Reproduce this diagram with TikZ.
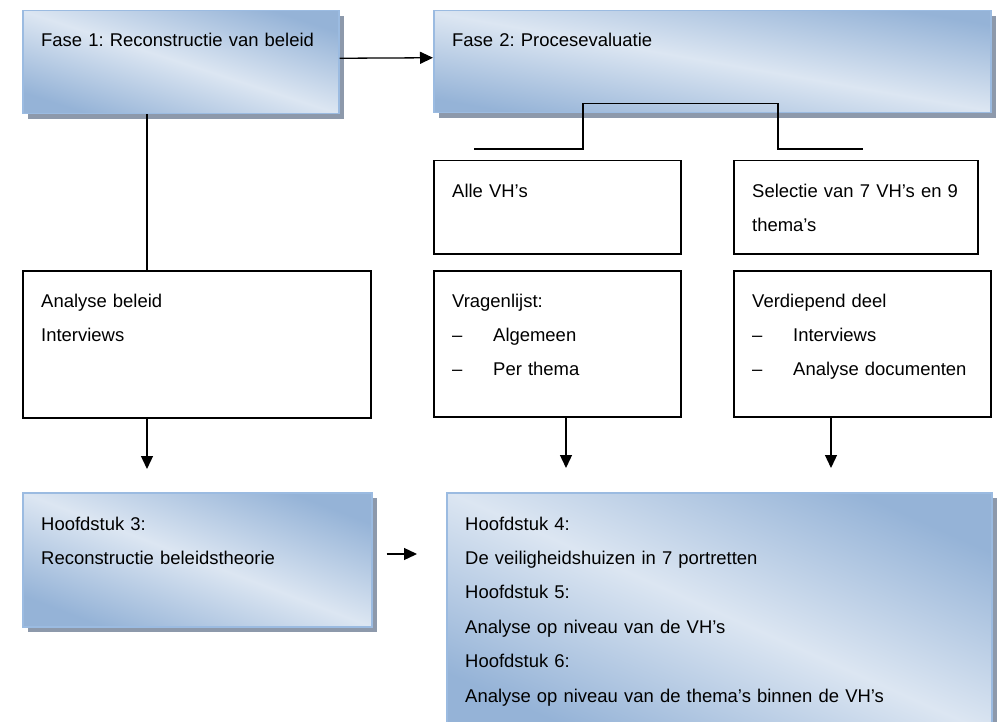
\documentclass[tikz,border=0pt]{standalone}
\usepackage{fontspec}
\setmainfont{Liberation Sans}
\usetikzlibrary{arrows.meta,shadows}
\frenchspacing

\definecolor{phasedark}{RGB}{149,179,215}
\definecolor{phaselight}{RGB}{220,230,242}
\definecolor{phaseline}{RGB}{155,187,225}
\definecolor{shadowgray}{RGB}{141,153,171}

\begin{document}
\begin{tikzpicture}[x=1pt,y=-1pt,
		phase/.style={draw=phaseline, line width=1.5pt, top color=phasedark, bottom color=phasedark,
			middle color=phaselight, shading angle=#1,
			drop shadow={shadow xshift=5pt, shadow yshift=-5pt, fill=shadowgray, opacity=1},
			anchor=north west, inner sep=0pt},
		plainbox/.style={draw, line width=1.5pt, anchor=north west, inner sep=0pt},
		boxtext/.style={anchor=base west, text width=560pt, align=left, inner sep=0pt,
			font=\fontsize{18.45}{34.4}\selectfont},
		arr/.style={line width=1.3pt, -{Triangle[length=13pt,width=12pt]}},
		link/.style={line width=1.3pt}]
		\useasboundingbox (0,0) rectangle (998,722);
		% blue boxes
		\node[phase=-18, minimum width=316pt, minimum height=103pt] (f1) at (22,10) {};
		\node[phase=-10, minimum width=557pt, minimum height=102pt] (f2) at (433,10) {};
		\node[phase=-21, minimum width=349pt, minimum height=134pt] (h3) at (22,492) {};
		\node[phase=-24, minimum width=545pt, minimum height=240pt] (h4) at (446,492) {};
		% white boxes
		\node[plainbox, minimum width=348pt, minimum height=147pt] (ana) at (22,270) {};
		\node[plainbox, minimum width=247pt, minimum height=93pt] (alle) at (433,160) {};
		\node[plainbox, minimum width=244pt, minimum height=93pt] (sel) at (733,160) {};
		\node[plainbox, minimum width=247pt, minimum height=146pt] (vra) at (433,270) {};
		\node[plainbox, minimum width=257pt, minimum height=146pt] (ver) at (733,270) {};

		\node[boxtext] (f1t) at ([shift={(19,37)}]f1.north west) {Fase 1: Reconstructie van beleid};
		\node[boxtext] (f2t) at ([shift={(19,37)}]f2.north west) {Fase 2: Procesevaluatie};
		\node[boxtext] (anat) at ([shift={(19,37)}]ana.north west) {Analyse beleid\\Interviews};
		\node[boxtext] (allet) at ([shift={(19,37)}]alle.north west) {Alle VH’s};
		\node[boxtext] (selt) at ([shift={(19,37)}]sel.north west) {Selectie van 7 VH’s en 9\\thema’s};
		\node[boxtext] (vrat) at ([shift={(19,37)}]vra.north west)
			{Vragenlijst:\\\makebox[41pt][l]{–}Algemeen\\\makebox[41pt][l]{–}Per thema};
		\node[boxtext] (vert) at ([shift={(19,37)}]ver.north west)
			{Verdiepend deel\\\makebox[41pt][l]{–}Interviews\\\makebox[41pt][l]{–}Analyse documenten};
		\node[boxtext] (h3t) at ([shift={(19,38)}]h3.north west) {Hoofdstuk 3:\\Reconstructie beleidstheorie};
		\node[boxtext] (h4t) at ([shift={(19,38)}]h4.north west)
			{Hoofdstuk 4:\\De veiligheidshuizen in 7 portretten\\Hoofdstuk 5:\\Analyse op niveau van de VH’s\\Hoofdstuk 6:\\Analyse op niveau van de thema’s binnen de VH’s};

		% connectors
		\draw[arr] ([yshift=4pt]f1.east) -- ([yshift=4pt]f2.west);
		\draw[link] ([xshift=125pt]f1.south west) -- ([xshift=125pt]ana.north west);
		\draw[link] ([shift={(41,-11)}]alle.north west) -| ([shift={(150,-10)}]f2.south west)
			-- ([shift={(345,-10)}]f2.south west) |- ([shift={(130,-11)}]sel.north west);
		\draw[arr] ([xshift=125pt]ana.south west) -- ([xshift=125pt,yshift=23pt]h3.north west);
		\draw[arr] ([xshift=133pt]vra.south west) -- ([xshift=120pt,yshift=24pt]h4.north west);
		\draw[arr] ([xshift=98pt]ver.south west) -- ([xshift=385pt,yshift=24pt]h4.north west);
		\draw[arr] ([shift={(14,62)}]h3.north east) -- ([shift={(-29,62)}]h4.north west);
	\end{tikzpicture}
\end{document}
